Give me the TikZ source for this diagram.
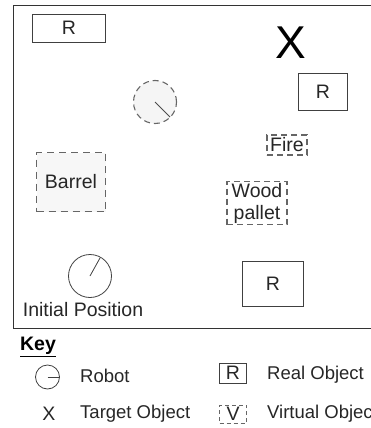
\documentclass[tikz,border=0pt]{standalone}
\usepackage{fontspec}
\setmainfont{Liberation Sans}
\usetikzlibrary{positioning}

\tikzset{
  lbl/.style={font=\fontsize{19.5}{22}\selectfont, text=black!85, inner sep=0pt},
  keylbl/.style={lbl, font=\fontsize{18.5}{22}\selectfont, anchor=west},
  realobj/.style={lbl, draw=black!75, line width=0.8pt, fill=white},
  virtobj/.style={lbl, draw=black!60, dash pattern=on 7pt off 5pt, line width=1.2pt, fill=gray!6},
  robotbody/.style={circle, draw=black!75, line width=0.8pt, inner sep=0pt},
}

\begin{document}
\begin{tikzpicture}[x=1pt, y=-1pt]
        \useasboundingbox (0,0) rectangle (371,428);
        \clip (0,0) rectangle (371,428);

        % arena
        \draw[black!80, line width=0.9pt] (13,5) rectangle (385,328);

        % real objects
        \node[realobj, minimum width=73pt, minimum height=28pt] (r1) at (69,28) {R};
        \node[realobj, minimum width=49pt, minimum height=37pt] (r2) at (323,92) {R};
        \node[realobj, minimum width=61pt, minimum height=45pt] (r3) at (273,284) {R};

        % target
        \node[lbl, font=\fontsize{46}{46}\selectfont, text=black] (target) at (291,43) {X};

        % virtual objects
        \node[virtobj, minimum width=69pt, minimum height=59pt] (barrel) at (71,182) {Barrel};
        \node[virtobj, fill=white, dash pattern=on 6pt off 4pt, minimum width=40pt, minimum height=20pt] (fire) at (287,145) {Fire};
        \node[virtobj, fill=white, dash pattern=on 6pt off 4pt, align=center, minimum width=60pt, minimum height=43pt] (pallet) at (257,203) {Wood\\pallet};

        % robots
        \node[robotbody, draw=black!60, fill=gray!8, dash pattern=on 6pt off 4pt, line width=1.1pt, minimum size=43pt] (ghost) at (155,102) {};
        \coordinate (ghostdir) at (170,117);
        \draw[black!70, line width=0.8pt] (ghost.center) -- (ghostdir);

        \node[robotbody, minimum size=43pt] (start) at (90,276) {};
        \coordinate (startdir) at (100,258);
        \draw[black!75, line width=0.8pt] (start.center) -- (startdir);
        \node[lbl] (startlbl) at (83,310) {Initial Position};

        % key
        \node[lbl, font=\fontsize{19.5}{22}\selectfont\bfseries, text=black] (key) at (38,347) {\underline{Key}};

        \node[robotbody, minimum size=24pt] (krobot) at (47.5,377) {};
        \draw[black!75, line width=0.8pt] (krobot.center) -- (krobot.east);
        \node[keylbl] (krobotlbl) at (80,376) {Robot};

        \node[realobj, minimum width=27pt, minimum height=20pt] (kreal) at (233,373) {R};
        \node[keylbl] (kreallbl) at (267,375) {Real Object};

        \node[lbl] (ktarget) at (49,414) {X};
        \node[keylbl] (ktargetlbl) at (80,414) {Target Object};

        \node[virtobj, fill=white, dash pattern=on 4pt off 3pt, line width=0.9pt, minimum width=27pt, minimum height=18pt] (kvirt) at (233,414) {V};
        \node[keylbl] (kvirtlbl) at (267,414) {Virtual Object};
\end{tikzpicture}
\end{document}
